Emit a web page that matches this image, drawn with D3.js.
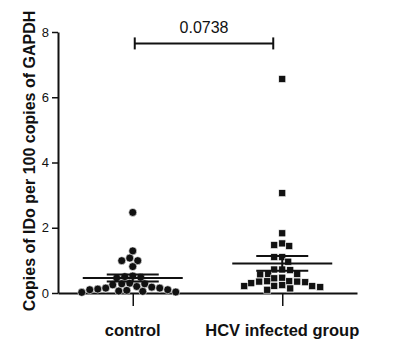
<!DOCTYPE html>
<html>
    <head>
        <script src="https://d3js.org/d3.v7.min.js"></script>
        <style>
            body, html {
                margin: 0;
                padding: 0;
                background: #ffffff;
                font-family: "Liberation Sans", Arial, Helvetica, sans-serif;
            }
            .axis text {
                font-size: 13px;
                fill: #111111;
            }
            .groupLabel {
                font-size: 16.5px;
                font-weight: bold;
                fill: #111111;
            }
            .axisLabel {
                font-size: 16px;
                font-weight: bold;
                fill: #111111;
            }
        </style>
    </head>
    <body>
        <div id="chart"></div>
        <script>

            /* DATA */
            const groups = ["control", "HCV infected group"];

            const controlValues = [2.47, 1.29, 1.07, 0.99, 0.99, 0.81, 0.52, 0.50, 0.48, 0.46,
                0.30, 0.28, 0.28, 0.25, 0.20, 0.18, 0.15, 0.15, 0.12, 0.10,
                0.10, 0.08, 0.06, 0.05, 0.03, 0.02];

            const hcvValues = [6.56, 3.06, 1.83, 1.52, 1.47, 1.44, 1.10, 1.10, 0.96, 0.72,
                0.72, 0.70, 0.58, 0.58, 0.57, 0.47, 0.45, 0.36, 0.36, 0.35,
                0.35, 0.33, 0.30, 0.24, 0.22, 0.21, 0.21, 0.18, 0.14, 0.10];

            const yTicks = [0, 2, 4, 6, 8];
            const pValue = "0.0738";
            const bracketLevel = 7.65;

            /* CANVAS */
            const width = 400;
            const height = 354;
            const margin = {top: 32, left: 58, right: 43, bottom: 61};

            const svg = d3.select("#chart")
                .append("svg")
                .attr("width", width)
                .attr("height", height);

            const xScale = d3.scalePoint()
                .domain(groups)
                .range([margin.left, width - margin.right])
                .padding(0.5);

            const yScale = d3.scaleLinear()
                .domain([0, 8])
                .range([height - margin.bottom, margin.top]);

            /* AXES */
            const yAxis = svg.append("g")
                .attr("class", "axis")
                .attr("transform", `translate(${margin.left},0)`)
                .call(d3.axisLeft(yScale).tickValues(yTicks).tickSize(6).tickPadding(3).tickSizeOuter(0));

            const xAxis = svg.append("g")
                .attr("class", "axis")
                .attr("transform", `translate(0,${height - margin.bottom})`)
                .call(d3.axisBottom(xScale).tickSize(13).tickSizeOuter(0).tickFormat(""));

            svg.selectAll(".axis path, .axis line")
                .attr("stroke", "#111111")
                .attr("stroke-width", 2);
            svg.selectAll(".axis .tick line").attr("stroke-width", 1.5);

            /* LABELS */
            svg.selectAll(".groupLabel")
                .data(groups)
                .enter()
                .append("text")
                .attr("class", "groupLabel")
                .attr("x", d => xScale(d))
                .attr("y", 336)
                .attr("text-anchor", "middle")
                .text(d => d);

            svg.append("text")
                .attr("class", "axisLabel")
                .attr("transform", "translate(35,161) rotate(-90)")
                .attr("text-anchor", "middle")
                .text("Copies of IDo per 100 copies of GAPDH");

            /* SIMPLE BEESWARM LAYOUT */
            function swarm(values, cx, minDist) {
                const placed = [];
                values.slice().sort((a, b) => b - a).forEach(v => {
                    const y = yScale(v);
                    let off = 0;
                    for (let k = 0; k < 200; k++) {
                        const cand = (k % 2 === 0 ? 1 : -1) * Math.ceil(k / 2);
                        const ok = placed.every(p => Math.hypot(p.x - (cx + cand), p.y - y) >= minDist);
                        if (ok) { off = cand; break; }
                    }
                    placed.push({x: cx + off, y: y, v: v});
                });
                return placed;
            }

            const controlPts = swarm(controlValues, xScale("control"), 7.5);
            const hcvPts = swarm(hcvValues, xScale("HCV infected group"), 7.2);

            /* MEAN +/- SEM */
            function drawStats(values, cx) {
                const m = d3.mean(values);
                const sem = d3.deviation(values) / Math.sqrt(values.length);
                const g = svg.append("g").attr("stroke", "#111111").attr("stroke-width", 2);
                g.append("line")
                    .attr("x1", cx - 50).attr("x2", cx + 50)
                    .attr("y1", yScale(m)).attr("y2", yScale(m));
                g.append("line")
                    .attr("x1", cx).attr("x2", cx)
                    .attr("y1", yScale(m - sem)).attr("y2", yScale(m + sem));
                [m - sem, m + sem].forEach(v => {
                    g.append("line")
                        .attr("x1", cx - 26).attr("x2", cx + 26)
                        .attr("y1", yScale(v)).attr("y2", yScale(v));
                });
            }

            svg.append("g").selectAll("circle")
                .data(controlPts)
                .enter()
                .append("circle")
                .attr("cx", d => d.x)
                .attr("cy", d => d.y)
                .attr("r", 4)
                .attr("fill", "#111111")
                .attr("stroke", "#ffffff")
                .attr("stroke-width", 0.6);

            svg.append("g").selectAll("rect")
                .data(hcvPts)
                .enter()
                .append("rect")
                .attr("x", d => d.x - 3.5)
                .attr("y", d => d.y - 3.5)
                .attr("width", 7)
                .attr("height", 7)
                .attr("fill", "#111111")
                .attr("stroke", "#ffffff")
                .attr("stroke-width", 0.6);

            drawStats(controlValues, xScale("control"));
            drawStats(hcvValues, xScale("HCV infected group"));

            /* SIGNIFICANCE BRACKET */
            const bx1 = xScale("control") + 2;
            const bx2 = xScale("HCV infected group") - 9;
            const by = yScale(bracketLevel);
            const bracket = svg.append("g").attr("stroke", "#111111").attr("stroke-width", 2);
            bracket.append("line").attr("x1", bx1).attr("x2", bx2).attr("y1", by).attr("y2", by);
            [bx1, bx2].forEach(x => {
                bracket.append("line").attr("x1", x).attr("x2", x).attr("y1", by - 6).attr("y2", by + 6);
            });

            svg.append("text")
                .attr("x", (bx1 + bx2) / 2)
                .attr("y", 33)
                .attr("text-anchor", "middle")
                .attr("font-size", "16px")
                .attr("fill", "#111111")
                .text(pValue);

        </script>
    </body>
</html>
